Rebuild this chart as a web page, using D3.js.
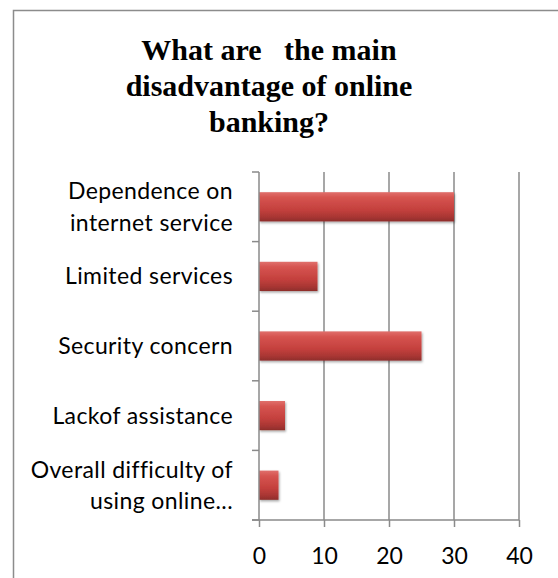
<!DOCTYPE html>
<html>
<head>
<meta charset="utf-8">
<script src="https://cdn.jsdelivr.net/npm/d3@7"></script>
<style>
  body { margin: 0; background: #fff; }
  svg { display: block; }
</style>
</head>
<body>
<div id="container"></div>
<script>
// DATA
const titleLines = ["What are   the main", "disadvantage of online", "banking?"];
const categories = [
  ["Dependence on", "internet service"],
  ["Limited services"],
  ["Security concern"],
  ["Lackof assistance"],
  ["Overall difficulty of", "using online..."]
];
const values = [30, 9, 25, 4, 3];
const xTicks = [0, 10, 20, 30, 40];

// SVG
const width = 558;
const height = 578;
const plot = { left: 259, right: 519, top: 172, bottom: 520 };

const svg = d3.select("div#container").append("svg")
    .attr("width", width)
    .attr("height", height);

// gradient for the bevelled bars
const defs = svg.append("defs");
const grad = defs.append("linearGradient")
    .attr("id", "barGrad")
    .attr("x1", 0).attr("y1", 0).attr("x2", 0).attr("y2", 1);
grad.append("stop").attr("offset", "0%").attr("stop-color", "#e0706c");
grad.append("stop").attr("offset", "18%").attr("stop-color", "#d65450");
grad.append("stop").attr("offset", "60%").attr("stop-color", "#c4403d");
grad.append("stop").attr("offset", "85%").attr("stop-color", "#a83633");
grad.append("stop").attr("offset", "100%").attr("stop-color", "#8e2d2b");

const shadow = defs.append("filter").attr("id", "shadow")
    .attr("x", "-10%").attr("y", "-20%").attr("width", "130%").attr("height", "160%");
shadow.append("feDropShadow")
    .attr("dx", 1).attr("dy", 1.5).attr("stdDeviation", 1.2)
    .attr("flood-color", "#000").attr("flood-opacity", 0.35);

// chart border
svg.append("rect")
    .attr("x", 13.5).attr("y", 10.5)
    .attr("width", width + 20).attr("height", height + 20)
    .attr("fill", "none")
    .attr("stroke", "#8c8c8c")
    .attr("stroke-width", 1.5);

// TITLE
svg.append("g").selectAll("text")
    .data(titleLines)
    .enter().append("text")
      .attr("x", 269)
      .attr("y", (d, i) => 60 + i * 36)
      .attr("text-anchor", "middle")
      .attr("font-family", "Liberation Serif, Times New Roman, serif")
      .attr("font-weight", "bold")
      .attr("font-size", 30)
      .style("white-space", "pre")
      .attr("xml:space", "preserve")
      .text(d => d);

// SCALES
const xScale = d3.scaleLinear().domain([0, 40]).range([plot.left, plot.right]);
const yScale = d3.scaleBand()
    .domain(d3.range(categories.length))
    .range([plot.top, plot.bottom])
    .paddingInner(0.58)
    .paddingOuter(0.29);

// GRIDLINES
svg.append("g")
    .selectAll("line")
    .data(xTicks.slice(1))
    .enter().append("line")
      .attr("x1", d => xScale(d)).attr("x2", d => xScale(d))
      .attr("y1", plot.top).attr("y2", plot.bottom)
      .attr("stroke", "#8a8a8a")
      .attr("stroke-width", 1.5);

// BARS
svg.append("g")
    .selectAll("rect")
    .data(values)
    .enter().append("rect")
      .attr("x", xScale(0))
      .attr("y", (d, i) => yScale(i))
      .attr("width", d => xScale(d) - xScale(0))
      .attr("height", yScale.bandwidth())
      .attr("fill", "url(#barGrad)")
      .attr("filter", "url(#shadow)");

// AXES
const xAxisGen = d3.axisBottom(xScale).tickValues(xTicks).tickSize(7).tickPadding(21);
const xAxis = svg.append("g")
    .attr("transform", "translate(0," + plot.bottom + ")")
    .call(xAxisGen);
xAxis.select(".domain")
    .attr("d", "M" + (plot.left - 7) + ",0H" + plot.right);

// category boundaries on the y axis
const catEdges = d3.range(categories.length + 1)
    .map(i => plot.top + i * (plot.bottom - plot.top) / categories.length);
const yAxis = svg.append("g");
yAxis.append("line")
    .attr("x1", plot.left).attr("x2", plot.left)
    .attr("y1", plot.top).attr("y2", plot.bottom)
    .attr("stroke", "#8a8a8a").attr("stroke-width", 1.5);
yAxis.selectAll("line.tick")
    .data(catEdges)
    .enter().append("line")
      .attr("class", "tick")
      .attr("x1", plot.left - 7).attr("x2", plot.left)
      .attr("y1", d => d).attr("y2", d => d)
      .attr("stroke", "#8a8a8a").attr("stroke-width", 1.5);

xAxis.selectAll("path, line")
    .attr("stroke", "#8a8a8a")
    .attr("stroke-width", 1.5);
xAxis.selectAll(".tick text")
    .attr("font-family", "Lato, Open Sans, sans-serif")
    .attr("font-size", 23)
    .attr("fill", "#000");

// category labels
const labels = svg.append("g")
    .selectAll("text")
    .data(categories)
    .enter().append("text")
      .attr("text-anchor", "end")
      .attr("font-family", "Lato, Open Sans, sans-serif")
      .attr("font-size", 23)
      .attr("letter-spacing", 0.4)
      .attr("fill", "#000")
      .attr("transform", (d, i) => "translate(233," + (yScale(i) + yScale.bandwidth() / 2) + ")");

labels.selectAll("tspan")
    .data(d => d.map((t, j) => ({ t: t, j: j, n: d.length })))
    .enter().append("tspan")
      .attr("x", 0)
      .attr("y", d => (d.j - (d.n - 1) / 2) * 31.5)
      .attr("dy", "0.35em")
      .text(d => d.t);
</script>
</body>
</html>
